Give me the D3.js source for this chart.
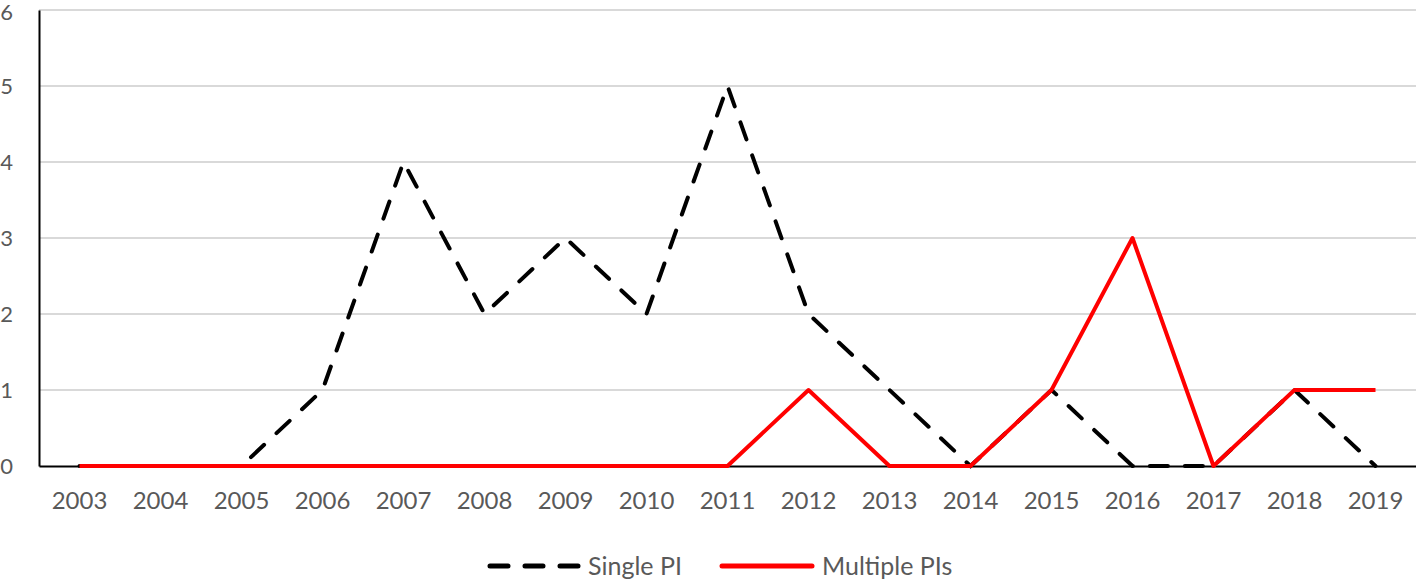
<!DOCTYPE html>
<html>
<head>
<meta charset="utf-8">
<script src="https://cdn.jsdelivr.net/npm/d3@7"></script>
<style>
  body { margin: 0; background: #fff; }
  text { font-family: Lato, "Open Sans", sans-serif; fill: #595959; }
</style>
</head>
<body>
<svg id="viz"></svg>
<script>
// data
const years = ['2003','2004','2005','2006','2007','2008','2009','2010','2011','2012','2013','2014','2015','2016','2017','2018','2019'];
const singlePI = [0, 0, 0, 1, 4, 2, 3, 2, 5, 2, 1, 0, 1, 0, 0, 1, 0];
const multiplePIs = [0, 0, 0, 0, 0, 0, 0, 0, 0, 1, 0, 0, 1, 3, 0, 1, 1];
const yTicks = [0, 1, 2, 3, 4, 5, 6];

var width = 1416, height = 580;
var margin = { top: 10, right: 0, bottom: 114, left: 39 };
var drawWidth = width - margin.left - margin.right;
var drawHeight = height - margin.top - margin.bottom;

var svg = d3.select('#viz').attr('width', width).attr('height', height);
var g = svg.append('g').attr('transform', `translate(${margin.left},${margin.top})`);

var xScale = d3.scaleBand().domain(years).range([0, drawWidth]);
var yScale = d3.scaleLinear().domain([0, 6]).range([drawHeight, 0]);

// gridlines
g.selectAll('.grid').data(yTicks.filter(d => d > 0)).enter()
  .append('line')
  .attr('x1', 0).attr('x2', drawWidth)
  .attr('y1', d => yScale(d)).attr('y2', d => yScale(d))
  .attr('stroke', '#d9d9d9').attr('stroke-width', 2);

// y axis
var yAxis = d3.axisLeft(yScale).tickValues(yTicks).tickFormat(d3.format('d')).tickSize(0).tickPadding(26);
var yG = g.append('g').call(yAxis);
yG.select('.domain').attr('stroke', '#000').attr('stroke-width', 2);
yG.selectAll('text').style('font-size', '22px').style('fill', '#595959').style('font-family', 'Lato, sans-serif')
  .attr('dy', d => d === 6 ? '0.42em' : '0.32em');

// x axis
var xAxis = d3.axisBottom(xScale).tickSize(0).tickPadding(26);
var xG = g.append('g').attr('transform', `translate(0,${drawHeight})`).call(xAxis);
xG.select('.domain').attr('stroke', '#000').attr('stroke-width', 2);
xG.selectAll('text').style('font-size', '24px').style('fill', '#595959').style('font-family', 'Lato, sans-serif');

var cx = d => xScale(d) + xScale.bandwidth() / 2;

var line = d3.line()
  .x(d => cx(d.year))
  .y(d => yScale(d.v));

var series = [
  { name: 'Single PI', values: singlePI, color: '#000', dash: '18 17' },
  { name: 'Multiple PIs', values: multiplePIs, color: '#ff0000', dash: null }
];

// black dashes underneath, red solid on top
g.append('path')
  .datum(years.map((y, i) => ({ year: y, v: singlePI[i] })))
  .attr('d', line)
  .attr('fill', 'none').attr('stroke', '#000').attr('stroke-width', 4)
  .attr('stroke-dasharray', '18 17').attr('stroke-linecap', 'round');

g.append('path')
  .datum(years.map((y, i) => ({ year: y, v: multiplePIs[i] })))
  .attr('d', line)
  .attr('fill', 'none').attr('stroke', '#ff0000').attr('stroke-width', 4)
  .attr('stroke-linejoin', 'round');

// legend
var legend = svg.append('g').attr('transform', 'translate(490,566)');
var items = [
  { x: 0, len: 88, s: series[0] },
  { x: 232, len: 90, s: series[1] }
];
items.forEach(it => {
  legend.append('line')
    .attr('x1', it.x).attr('x2', it.x + it.len)
    .attr('y1', 0).attr('y2', 0)
    .attr('stroke', it.s.color).attr('stroke-width', 5)
    .attr('stroke-linecap', 'round')
    .attr('stroke-dasharray', it.s.dash);
  legend.append('text')
    .attr('x', it.x + it.len + 10).attr('y', 0)
    .attr('dy', '0.35em')
    .style('font-size', '25px')
    .text(it.s.name);
});
</script>
</body>
</html>
